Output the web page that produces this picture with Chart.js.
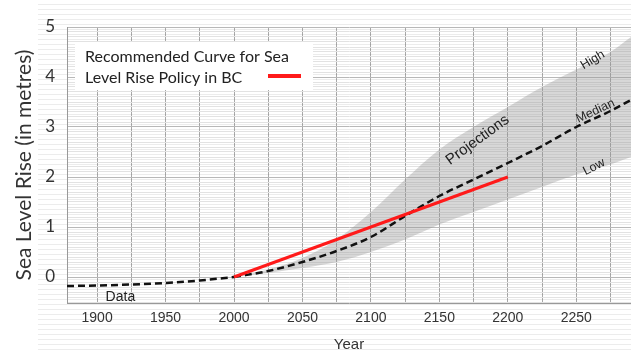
<!DOCTYPE html>
<html lang="en">
<head>
<meta charset="UTF-8">
<title>Sea Level Rise Policy in BC</title>
<script src="https://cdn.jsdelivr.net/npm/chart.js"></script>
<style>
  html, body { margin: 0; padding: 0; background: #fff; }
  #wrap {
    position: relative; width: 631px; height: 351px;
    background-image: repeating-linear-gradient(180deg, rgba(0,0,0,0) 0px, rgba(0,0,0,0) 4px, #ececec 4px, #ececec 5px);
    background-position: 38px 0; background-repeat: no-repeat;
  }
  canvas { display: block; }
</style>
</head>
<body>
<div id="wrap"><canvas id="slr" width="631" height="351"></canvas></div>
<script>
// observed record
const dataYears = [1878, 1900, 1925, 1950, 1975, 2000];
const dataLevel = [-0.18, -0.17, -0.15, -0.12, -0.07, 0];

// projections (high / median / low envelope)
const projYears  = [2000, 2025, 2050, 2075, 2100, 2125, 2150, 2175, 2200, 2225, 2250, 2275, 2290];
const projHigh   = [0, 0.15, 0.38, 0.75, 1.3, 1.95, 2.55, 3.0, 3.4, 3.8, 4.15, 4.5, 4.8];
const projMedian = [0, 0.12, 0.3, 0.52, 0.8, 1.22, 1.62, 1.95, 2.28, 2.62, 3.0, 3.32, 3.54];
const projLow    = [0, 0.08, 0.18, 0.3, 0.5, 0.75, 1.05, 1.3, 1.55, 1.8, 2.05, 2.25, 2.4];

// recommended policy curve
const policyYears = [2000, 2200];
const policyLevel = [0, 2.0];

// axes
const xGridYears = [1900, 1925, 1950, 1975, 2000, 2025, 2050, 2075, 2100, 2125, 2150, 2175, 2200, 2225, 2250, 2275];
const xTickLabels = [1900, 1950, 2000, 2050, 2100, 2150, 2200, 2250];
const yTickLabels = [0, 1, 2, 3, 4, 5];

const pts = (xs, ys) => xs.map((x, i) => ({ x, y: ys[i] }));

// text notes placed in data coordinates
const notes = [
  { text: 'Projections', x: 2178, y: 2.74, rot: -36, size: 15 },
  { text: 'High',   x: 2262, y: 4.34, rot: -31, size: 12.5 },
  { text: 'Median', x: 2264, y: 3.32, rot: -25, size: 12.5 },
  { text: 'Low',    x: 2263, y: 2.2,  rot: -27, size: 12.5 },
  { text: 'Data',   x: 1917, y: -0.4, rot: 0,   size: 14 }
];

const overlay = {
  id: 'overlay',
  afterDatasetsDraw(chart) {
    const { ctx, scales: { x, y }, chartArea } = chart;
    ctx.save();
    ctx.fillStyle = '#222';
    ctx.textAlign = 'center';
    ctx.textBaseline = 'middle';
    notes.forEach(n => {
      ctx.save();
      ctx.translate(x.getPixelForValue(n.x), y.getPixelForValue(n.y));
      ctx.rotate(n.rot * Math.PI / 180);
      ctx.font = n.size + 'px "Liberation Sans", Arial, sans-serif';
      ctx.fillText(n.text, 0, 0);
      ctx.restore();
    });

    // legend box
    const lx = chartArea.left + 8, ly = chartArea.top + 15;
    ctx.fillStyle = '#fff';
    ctx.fillRect(lx, ly, 238, 48);
    ctx.fillStyle = '#222';
    ctx.textAlign = 'left';
    ctx.textBaseline = 'alphabetic';
    ctx.font = '16px Lato, "Open Sans", sans-serif';
    ctx.fillText('Recommended Curve for Sea', lx + 10, ly + 20);
    ctx.fillText('Level Rise Policy in BC', lx + 10, ly + 41);
    ctx.strokeStyle = '#ff1a1a';
    ctx.lineWidth = 4;
    ctx.beginPath();
    ctx.moveTo(lx + 193, ly + 34);
    ctx.lineTo(lx + 226, ly + 34);
    ctx.stroke();
    ctx.restore();
  }
};

new Chart(document.getElementById('slr').getContext('2d'), {
  type: 'line',
  data: {
    datasets: [
      { label: 'Policy', data: pts(policyYears, policyLevel), borderColor: '#ff1a1a', borderWidth: 3, pointRadius: 0, fill: false },
      { label: 'Median', data: pts(projYears, projMedian), borderColor: '#111', borderWidth: 2.5, borderDash: [7, 4], pointRadius: 0, fill: false, cubicInterpolationMode: 'monotone' },
      { label: 'Data', data: pts(dataYears, dataLevel), borderColor: '#111', borderWidth: 2.5, borderDash: [7, 4], pointRadius: 0, fill: false, cubicInterpolationMode: 'monotone' },
      { label: 'High', data: pts(projYears, projHigh), borderWidth: 0, borderColor: 'rgba(0,0,0,0)', pointRadius: 0, fill: false, cubicInterpolationMode: 'monotone' },
      { label: 'Low', data: pts(projYears, projLow), borderWidth: 0, borderColor: 'rgba(0,0,0,0)', pointRadius: 0, fill: '-1', backgroundColor: 'rgba(150,150,150,0.38)', cubicInterpolationMode: 'monotone' }
    ]
  },
  options: {
    responsive: false,
    animation: false,
    layout: { padding: { top: 27, right: 0, left: 0, bottom: 0 } },
    plugins: { legend: { display: false }, tooltip: { enabled: false } },
    scales: {
      x: {
        type: 'linear',
        min: 1878, max: 2290,
        afterBuildTicks: s => { s.ticks = xGridYears.map(v => ({ value: v })); },
        afterFit: s => { s.height = 48; },
        ticks: {
          autoSkip: false, maxRotation: 0, padding: 7, color: '#333',
          font: { family: '"Liberation Sans", Arial, sans-serif', size: 14 },
          callback: v => xTickLabels.includes(v) ? String(v) : ''
        },
        grid: { color: 'rgba(110,110,110,0.6)', drawTicks: false },
        border: { color: '#999' },
        title: {
          display: true, text: 'Year', color: '#333',
          font: { family: '"Liberation Sans", Arial, sans-serif', size: 15 },
          padding: { top: 0, bottom: -3 }
        }
      },
      y: {
        min: -0.52, max: 5,
        afterBuildTicks: s => {
          const t = [];
          for (let i = -5; i <= 50; i++) t.push({ value: i / 10 });
          s.ticks = t;
        },
        afterFit: s => { s.width = 67; },
        ticks: {
          autoSkip: false, padding: 12, color: '#333',
          font: { family: 'Lato, "Open Sans", sans-serif', size: 17 },
          callback: v => {
            const r = Math.round(v);
            return Math.abs(v - r) < 1e-6 && yTickLabels.includes(r) ? String(r) : '';
          }
        },
        grid: {
          drawTicks: false,
          color: c => Math.abs(c.tick.value - Math.round(c.tick.value)) < 1e-6 ? '#b8b8b8' : '#e2e2e2'
        },
        border: { color: '#999' },
        title: {
          display: true, text: 'Sea Level Rise (in metres)', color: '#333',
          font: { family: 'Lato, "Open Sans", sans-serif', size: 21 },
          padding: { top: 12, bottom: 0 }
        }
      }
    }
  },
  plugins: [overlay]
});
</script>
</body>
</html>
